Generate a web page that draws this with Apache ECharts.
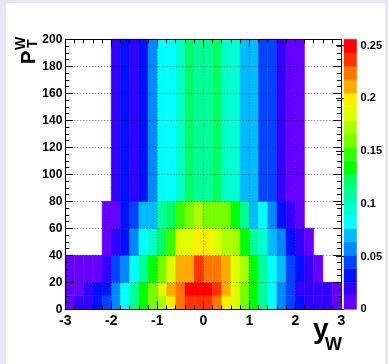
<!DOCTYPE html>
<html>
<head>
<meta charset="utf-8">
<script src="https://cdn.jsdelivr.net/npm/echarts@6/dist/echarts.min.js"></script>
<style>
  html, body { margin: 0; padding: 0; background: #e6e7f2; }
  #main { position: absolute; left: 6px; top: 3px; width: 379px; height: 361px; background: #fff; }
</style>
</head>
<body>
<div id="main"></div>
<script>
// bin edges
const xEdges = [-3, -2.8, -2.6, -2.4, -2.2, -2, -1.8, -1.6, -1.4, -1.2, -1, -0.8, -0.6, -0.4, -0.2, 0,
  0.2, 0.4, 0.6, 0.8, 1, 1.2, 1.4, 1.6, 1.8, 2, 2.2, 2.4, 2.6, 2.8, 3];
const yEdges = [0, 10, 20, 40, 60, 80, 200];

// bin contents, one array per pT row (bottom to top), null = empty bin
const z_0_10 = [0.006, 0.019, 0.019, 0.032, 0.045, 0.058, 0.083, 0.109, 0.134, 0.160, 0.173, 0.198, 0.224, 0.237, 0.237,
  0.237, 0.224, 0.198, 0.186, 0.160, 0.134, 0.109, 0.083, 0.058, 0.045, 0.032, 0.019, 0.019, 0.019, 0.006];
const z_10_20 = [0.006, 0.006, 0.019, 0.032, 0.032, 0.058, 0.083, 0.109, 0.134, 0.160, 0.186, 0.211, 0.224, 0.250, 0.250,
  0.250, 0.237, 0.211, 0.186, 0.160, 0.134, 0.109, 0.083, 0.058, 0.045, 0.019, 0.019, 0.019, 0.019, 0.006];
const z_20_40 = [0.006, 0.006, 0.006, 0.006, 0.019, 0.045, 0.058, 0.083, 0.109, 0.134, 0.160, 0.186, 0.211, 0.211, 0.237,
  0.224, 0.224, 0.211, 0.186, 0.173, 0.134, 0.109, 0.083, 0.070, 0.045, 0.032, 0.019, 0.006, null, null];
const z_40_60 = [null, null, null, null, 0.006, 0.019, 0.032, 0.058, 0.083, 0.096, 0.122, 0.147, 0.186, 0.186, 0.198,
  0.198, 0.186, 0.173, 0.173, 0.134, 0.109, 0.096, 0.070, 0.058, 0.032, 0.019, 0.006, null, null, null];
const z_60_80 = [null, null, null, null, 0.006, 0.006, 0.032, 0.045, 0.070, 0.070, 0.109, 0.122, 0.147, 0.160, 0.173,
  0.160, 0.160, 0.160, 0.134, 0.109, 0.070, 0.083, 0.058, 0.032, 0.019, 0.006, null, null, null, null];
const z_80_200 = [null, null, null, null, null, 0.019, 0.032, 0.019, 0.032, 0.058, 0.083, 0.083, 0.096, 0.122, 0.109,
  0.109, 0.122, 0.096, 0.096, 0.070, 0.070, 0.045, 0.045, 0.019, 0.006, 0.006, null, null, null, null];
const zRows = [z_0_10, z_10_20, z_20_40, z_40_60, z_60_80, z_80_200];

// colour contour levels and palette
const zLevels = [0, 0.0128, 0.0256, 0.0384, 0.0512, 0.064, 0.0768, 0.0896, 0.1024, 0.1152, 0.128,
  0.1408, 0.1536, 0.1664, 0.1792, 0.192, 0.2048, 0.2176, 0.2304, 0.2432, 0.256];
const palette = ['#6600ff', '#3300ff', '#0011ff', '#0044ff', '#0088ff', '#00bbff', '#00ffff', '#00ffcc',
  '#00ff99', '#00ff66', '#00ff00', '#33ff00', '#77ff00', '#aaff00', '#ddff00', '#ffee00', '#ffaa00',
  '#ff7700', '#ff3300', '#ff0000'];
const cbTicks = [0, 0.05, 0.1, 0.15, 0.2, 0.25];

const font = 'Liberation Sans';

let cells = [];
zRows.forEach((row, j) => {
  row.forEach((z, i) => {
    if (z === null) return;
    cells.push([xEdges[i], xEdges[i + 1], yEdges[j], yEdges[j + 1], z]);
  });
});
let bands = [];
for (let k = 0; k < zLevels.length - 1; k++) {
  bands.push([0, 1, zLevels[k], zLevels[k + 1], (zLevels[k] + zLevels[k + 1]) / 2]);
}
let pieces = palette.map((c, k) => ({ gte: zLevels[k], lt: zLevels[k + 1], color: c }));
pieces[pieces.length - 1].lte = zLevels[zLevels.length - 1];
delete pieces[pieces.length - 1].lt;

const drawRect = (params, api) => {
  const a = api.coord([api.value(0), api.value(3)]);
  const b = api.coord([api.value(1), api.value(2)]);
  const c = api.visual('color');
  return {
    type: 'rect',
    shape: { x: a[0], y: a[1], width: b[0] - a[0], height: b[1] - a[1] },
    style: { fill: c, stroke: c, lineWidth: 0.5 }
  };
};

const lbl = (size) => ({ fontFamily: font, fontWeight: 'bold', fontSize: size, color: '#000' });
const blk = { onZero: false, lineStyle: { color: '#000', width: 1 } };
const grid = { show: true, lineStyle: { color: 'rgba(0,0,0,0.55)', type: [1, 2], width: 1 } };
const tick = { inside: true, length: 8, lineStyle: { color: '#000' } };

const chart = echarts.init(document.getElementById('main'));
const option = {
  animation: false,
  grid: [
    { left: 59.3, top: 36.3, width: 276, height: 270 },
    { left: 338, top: 36.3, width: 15, height: 270 }
  ],
  visualMap: { type: 'piecewise', show: false, dimension: 4, seriesIndex: [0, 1], pieces: pieces },
  xAxis: [
    {
      type: 'value', gridIndex: 0, position: 'bottom', min: -3, max: 3, interval: 1, z: 5,
      axisLine: blk, axisTick: tick,
      minorTick: { show: true, splitNumber: 5, length: 4, lineStyle: { color: '#000' } },
      axisLabel: Object.assign(lbl(14), { margin: 5, showMinLabel: true, showMaxLabel: true }),
      splitLine: grid
    },
    {
      type: 'value', gridIndex: 0, position: 'top', min: -3, max: 3, interval: 1, z: 5,
      axisLine: blk, axisTick: tick,
      minorTick: { show: true, splitNumber: 5, length: 4, lineStyle: { color: '#000' } },
      axisLabel: { show: false }, splitLine: { show: false }
    },
    { type: 'value', gridIndex: 1, min: 0, max: 1, show: false }
  ],
  yAxis: [
    {
      type: 'value', gridIndex: 0, position: 'left', min: 0, max: 200, interval: 20, z: 5,
      axisLine: blk, axisTick: tick,
      minorTick: { show: true, splitNumber: 4, length: 4, lineStyle: { color: '#000' } },
      axisLabel: Object.assign(lbl(12), { margin: 3, showMinLabel: true, showMaxLabel: true }),
      splitLine: grid
    },
    {
      type: 'value', gridIndex: 0, position: 'right', min: 0, max: 200, interval: 20, z: 5,
      axisLine: blk, axisTick: tick,
      minorTick: { show: true, splitNumber: 4, length: 4, lineStyle: { color: '#000' } },
      axisLabel: { show: false }, splitLine: { show: false }
    },
    {
      type: 'value', gridIndex: 1, position: 'right', min: 0, max: zLevels[zLevels.length - 1], z: 5,
      axisLine: { show: false },
      axisTick: { show: true, inside: true, length: 8, customValues: cbTicks, lineStyle: { color: '#000' } },
      axisLabel: Object.assign(lbl(11), { margin: 4, customValues: cbTicks }),
      splitLine: { show: false }
    }
  ],
  series: [
    { type: 'custom', xAxisIndex: 0, yAxisIndex: 0, z: 1, renderItem: drawRect,
      encode: { x: [0, 1], y: [2, 3] }, data: cells, silent: true },
    { type: 'custom', xAxisIndex: 2, yAxisIndex: 2, z: 1, renderItem: drawRect,
      encode: { x: [0, 1], y: [2, 3] }, data: bands, silent: true }
  ],
  graphic: [
    { type: 'text', x: 307, y: 313, style: { text: 'y', fontFamily: font, fontWeight: 'bold', fontSize: 28, fill: '#000' } },
    { type: 'text', x: 319, y: 333, style: { text: 'W', fontFamily: font, fontWeight: 'bold', fontSize: 18, fill: '#000' } },
    { type: 'text', x: 13, y: 61, rotation: Math.PI / 2,
      style: { text: 'P', fontFamily: font, fontWeight: 'bold', fontSize: 20, fill: '#000' } },
    { type: 'text', x: 8, y: 47, rotation: Math.PI / 2,
      style: { text: 'W', fontFamily: font, fontWeight: 'bold', fontSize: 14, fill: '#000' } },
    { type: 'text', x: 20, y: 45, rotation: Math.PI / 2,
      style: { text: 'T', fontFamily: font, fontWeight: 'bold', fontSize: 14, fill: '#000' } }
  ]
};
chart.setOption(option);
</script>
</body>
</html>
